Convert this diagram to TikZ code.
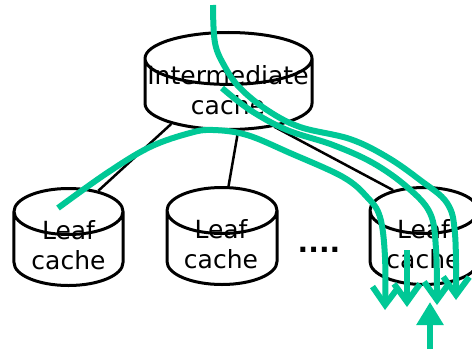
\documentclass[tikz,border=0pt]{standalone}
\usepackage{fontspec}
\setmainfont{DejaVu Sans}
\usetikzlibrary{shapes.geometric,arrows.meta}

\definecolor{flowgreen}{RGB}{0,200,150}

\tikzset{
  cache/.style={cylinder, shape border rotate=90, draw, line width=3bp, fill=white,
    inner sep=0pt, text height=0pt, text depth=0pt, anchor=bottom},
  cachetext/.style={align=center, anchor=base, inner sep=0pt, font=\fontsize{25bp}{30bp}\selectfont},
  link/.style={line width=2.5bp},
  flow/.style={draw=flowgreen, line width=6bp, -{Straight Barb[length=18bp,width=26bp]}},
}

\begin{document}
\begin{tikzpicture}[x=1bp,y=1bp]
    \useasboundingbox (0,0) rectangle (472,349);
    \clip (0,0) rectangle (472,349);

    % Caches
    \node[cache, minimum width=167bp, minimum height=97bp, text width=150bp, shape aspect=0.346] (inter) at (228.5,218) {};
    \node[cache, minimum width=109bp, minimum height=97bp, text width=80bp, shape aspect=0.575] (leafA) at (68.5,62) {};
    \node[cache, minimum width=110bp, minimum height=97bp, text width=80bp, shape aspect=0.575] (leafB) at (222,63) {};
    \node[cache, minimum width=108bp, minimum height=97bp, text width=80bp, shape aspect=0.575] (leafC) at (424,63) {};

    \node[cachetext] (interText) at (228,235) {Intermediate\\cache};
    \node[cachetext] (leafAText) at (68.5,80) {Leaf\\cache};
    \node[cachetext] (leafBText) at (221,81) {Leaf\\cache};
    \node[cachetext] (leafCText) at (423.5,81) {Leaf\\cache};
    \node[font=\fontsize{28bp}{30bp}\selectfont\bfseries, anchor=base] (more) at (319,97) {....};

    % Tree links
    \draw[link] (inter.207) -- (leafA.63);
    \draw[link] (inter.285) -- (leafB.84);
    \draw[link] (inter.325) -- (leafC.118);

    % Request paths
    \coordinate (inA) at (213,344);
    \coordinate (inB) at (222,261);
    \coordinate (inC) at (58,141);
    \coordinate (inD) at (407,99);
    \coordinate (tipA) at (456,49);
    \coordinate (tipB) at (437,44);
    \coordinate (tipC) at (385,39);
    \coordinate (tipD) at (407,42);
    \draw[flow] plot[smooth, tension=0.6] coordinates {(inA) (215,306) (225,282) (240,261) (267,239) (300,222) (350,210) (387,192) (420,169) (447,146) (455,115) (tipA)};
    \draw[flow] plot[smooth, tension=0.6] coordinates {(inB) (250,239) (287,219) (333,204) (373,186) (407,162) (430,136) (436,100) (tipB)};
    \draw[flow] plot[smooth, tension=0.6] coordinates {(inC) (107,176) (150,202) (190,216) (213,219) (247,214) (290,196) (343,172) (367,152) (380,132) (385,92) (tipC)};
    \draw[flow] (inD) -- (tipD);

    % Reply coming up
    \coordinate (upIn) at (430,0);
    \coordinate (upTip) at (430,47);
    \draw[draw=flowgreen, fill=flowgreen, line width=6bp, -{Triangle[length=23bp,width=26bp]}] (upIn) -- (upTip);
\end{tikzpicture}
\end{document}
